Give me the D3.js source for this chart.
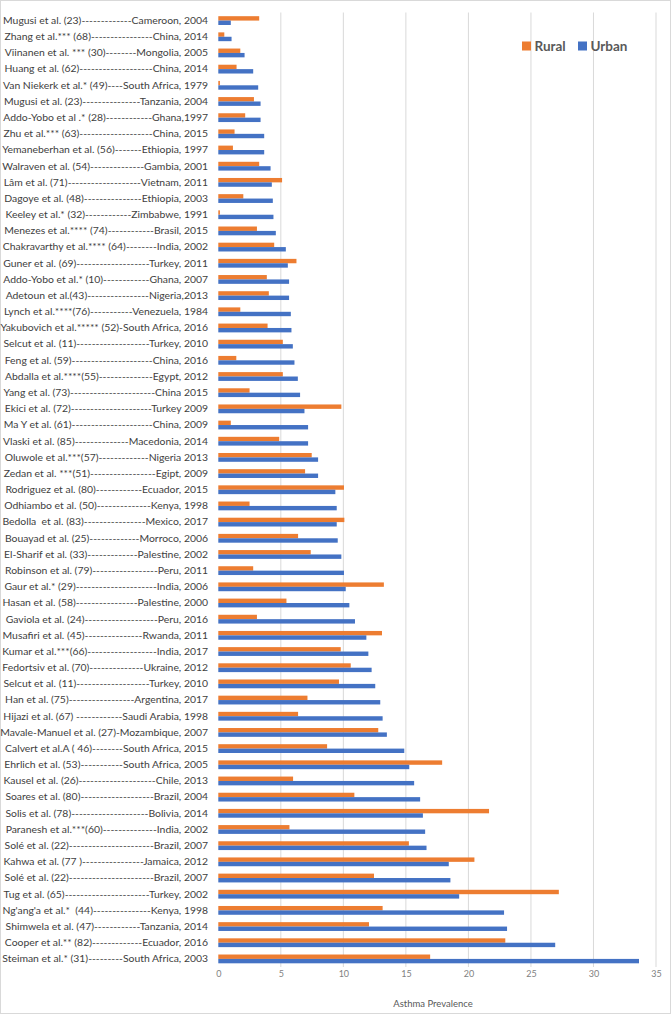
<!DOCTYPE html>
<html><head><meta charset="utf-8">
<script src="https://cdn.jsdelivr.net/npm/d3@7"></script>
<style>body{margin:0;background:#fff}svg{display:block}text{white-space:pre}</style>
</head><body><svg id="c" width="671" height="1015"></svg>
<script>
const categories = [
"Mugusi et al. (23)-----------------Cameroon, 2004",
"Zhang et al.*** (68)--------------------China, 2014",
"Viinanen et al. *** (30)-----------Mongolia, 2005",
"Huang et al. (62)-------------------------China, 2014",
"Van Niekerk et al.* (49)------South Africa, 1979",
"Mugusi et al. (23)-------------------Tanzania, 2004",
"Addo-Yobo et al .* (28)---------------Ghana,1997",
"Zhu et al.*** (63)-----------------------China, 2015",
"Yemaneberhan et al. (56)---------Ethiopia, 1997",
"Walraven et al. (54)------------------Gambia, 2001",
"Lâm et al. (71)------------------------Vietnam, 2011",
"Dagoye et al. (48)---------------------Ethiopia, 2003",
"Keeley et al.* (32)----------------Zimbabwe, 1991",
"Menezes et al.**** (74)---------------Brasil, 2015",
"Chakravarthy et al.**** (64)----------India, 2002",
"Guner et al. (69)------------------------Turkey, 2011",
"Addo-Yobo et al.* (10)----------------Ghana, 2007",
"Adetoun et al.(43)----------------------Nigeria,2013",
"Lynch et al.****(76)--------------Venezuela, 1984",
"Yakubovich et al.***** (52)-South Africa, 2016",
"Selcut et al. (11)-------------------------Turkey, 2010",
"Feng et al. (59)---------------------------China, 2016",
"Abdalla et al.****(55)------------------Egypt, 2012",
"Yang et al. (73)-----------------------------China 2015",
"Ekici et al. (72)---------------------------Turkey 2009",
"Ma Y et al. (61)---------------------------China, 2009",
"Vlaski et al. (85)---------------Macedonia, 2014",
"Oluwole et al.***(57)--------------Nigeria 2013",
"Zedan et al. ***(51)-------------------Egipt, 2009",
"Rodriguez et al. (80)--------------Ecuador, 2015",
"Odhiambo et al. (50)------------------Kenya, 1998",
"Bedolla  et al. (83)--------------------Mexico, 2017",
"Bouayad et al. (25)------------------Morroco, 2006",
"El-Sharif et al. (33)----------------Palestine, 2002",
"Robinson et al. (79)-----------------------Peru, 2011",
"Gaur et al.* (29)-------------------------India, 2006",
"Hasan et al. (58)--------------------Palestine, 2000",
"Gaviola et al. (24)--------------------------Peru, 2016",
"Musafiri et al. (45)--------------------Rwanda, 2011",
"Kumar et al.***(66)-------------------------India, 2017",
"Fedortsiv et al. (70)------------------Ukraine, 2012",
"Selcut et al. (11)------------------------Turkey, 2010",
"Han et al. (75)-----------------------Argentina, 2017",
"Hijazi et al. (67) --------------Saudi Arabia, 1998",
"Mavale-Manuel et al. (27)-Mozambique, 2007",
"Calvert et al.A ( 46)----------South Africa, 2015",
"Ehrlich et al. (53)-------------South Africa, 2005",
"Kausel et al. (26)-------------------------Chile, 2013",
"Soares et al. (80)-------------------------Brazil, 2004",
"Solis et al. (78)---------------------------Bolivia, 2014",
"Paranesh et al.***(60)-----------------India, 2002",
"Solé et al. (22)---------------------------Brazil, 2007",
"Kahwa et al. (77 )--------------------Jamaica, 2012",
"Solé et al. (22)---------------------------Brazil, 2007",
"Tug et al. (65)---------------------------Turkey, 2002",
"Ng'ang'a et al.*  (44)-----------------Kenya, 1998",
"Shimwela et al. (47)-------------Tanzania, 2014",
"Cooper et al.** (82)--------------Ecuador, 2016",
"Steiman et al.* (31)----------South Africa, 2003"
];
const rural = [3.27,0.48,1.76,1.46,0.13,2.85,2.15,1.3,1.17,3.27,5.1,2.0,0.13,3.09,4.47,6.25,3.88,4.04,1.76,3.94,5.16,1.44,5.16,2.5,9.84,1.0,4.87,7.47,6.94,10.05,2.5,10.08,6.38,7.39,2.79,13.24,5.45,3.09,13.09,9.79,10.59,9.65,7.13,6.38,12.79,8.7,17.9,5.98,10.88,21.65,5.69,15.24,20.48,12.45,27.23,13.14,12.05,22.95,16.94];
const urban = [1.0,1.06,2.1,2.79,3.19,3.38,3.38,3.67,3.67,4.18,4.28,4.36,4.41,4.6,5.4,5.56,5.66,5.66,5.8,5.85,5.96,6.09,6.36,6.54,6.89,7.18,7.18,7.98,7.98,9.36,9.47,9.47,9.55,9.84,10.05,10.19,10.48,10.93,11.84,12.0,12.26,12.55,12.95,13.14,13.48,14.87,15.27,15.66,16.14,16.36,16.54,16.65,18.43,18.56,19.26,22.85,23.09,26.94,33.64];
const seriesNames = ["Rural","Urban"];
const seriesColors = ["#ED7D31","#4472C4"];
const xTicks = [0,5,10,15,20,25,30,35];
const xTitle = "Asthma Prevalence";

const rows = categories.map((c,i)=>({key:i, label:c, vals:[rural[i],urban[i]]}));
const svg = d3.select("#c");
svg.append("rect").attr("x",0.5).attr("y",0.5).attr("width",670).attr("height",1013)
  .attr("fill","#fff").attr("stroke","#d9d9d9");

const x = d3.scaleLinear().domain([0,35]).range([218.3,656]);
const y = d3.scaleBand().domain(rows.map(d=>d.key)).range([12.5,967]).paddingInner(0.456).paddingOuter(0.228);
const ys = d3.scaleBand().domain(seriesNames).range([0,y.bandwidth()]);

// gridlines
svg.append("g").selectAll("line").data(xTicks.filter(t=>t>0)).join("line")
  .attr("x1",d=>x(d)).attr("x2",d=>x(d)).attr("y1",12.5).attr("y2",967)
  .attr("stroke","#d9d9d9").attr("stroke-width",1);

// bars
const g = svg.append("g").selectAll("g").data(rows).join("g")
  .attr("transform",d=>`translate(0,${y(d.key)})`);
g.selectAll("rect").data(d=>d.vals.map((v,j)=>({s:seriesNames[j],v,j}))).join("rect")
  .attr("x",x(0)).attr("y",d=>ys(d.s)).attr("height",ys.bandwidth())
  .attr("width",d=>x(d.v)-x(0)).attr("fill",d=>seriesColors[d.j]);

// category labels
const ya = d3.axisLeft(y).tickSize(0).tickPadding(0).tickFormat(i=>categories[i]);
const yg = svg.append("g").attr("transform","translate(208,0)").call(ya);
yg.select(".domain").remove();
const labels = yg.selectAll("text").attr("font-family","Lato, sans-serif").attr("font-size","10.4px").attr("fill","#404040");

// fit dash leaders so each label spans the same width as in the reference
const target = 204;
labels.each(function(i){
  const t = d3.select(this);
  const m = categories[i].match(/^(.*\)\s*)(-+)(.*)$/);
  if(!m) return;
  t.text(m[1]+"-"+m[3]);
  const w1 = this.getComputedTextLength();
  t.text(m[1]+"-----------"+m[3]);
  const hw = (this.getComputedTextLength()-w1)/10;
  const n = Math.max(1, Math.round((target-w1)/hw)+1);
  t.text(m[1]+"-".repeat(n)+m[3]);
});

// x axis
const xa = d3.axisBottom(x).tickValues(xTicks).tickSize(0).tickPadding(0);
const xg = svg.append("g").attr("transform","translate(0,971)").call(xa);
xg.select(".domain").remove();
xg.selectAll("text").attr("font-family","Lato, sans-serif").attr("font-size","9px").attr("fill","#7f7f7f");

svg.append("text").attr("x",433).attr("y",1007).attr("text-anchor","middle")
  .attr("font-family","Lato, sans-serif").attr("font-size","9.5px").attr("fill","#595959").text(xTitle);

// legend
const lg = svg.append("g").attr("transform","translate(522,46)");
const lx = [0,56];
seriesNames.forEach((s,j)=>{
  lg.append("rect").attr("x",lx[j]).attr("y",-4.5).attr("width",9).attr("height",9).attr("fill",seriesColors[j]);
  lg.append("text").attr("x",lx[j]+12.5).attr("y",0).attr("dy","0.36em")
    .attr("font-family","Lato, sans-serif").attr("font-weight","bold").attr("font-size","13.5px").attr("fill","#595959").text(s);
});
</script></body></html>
